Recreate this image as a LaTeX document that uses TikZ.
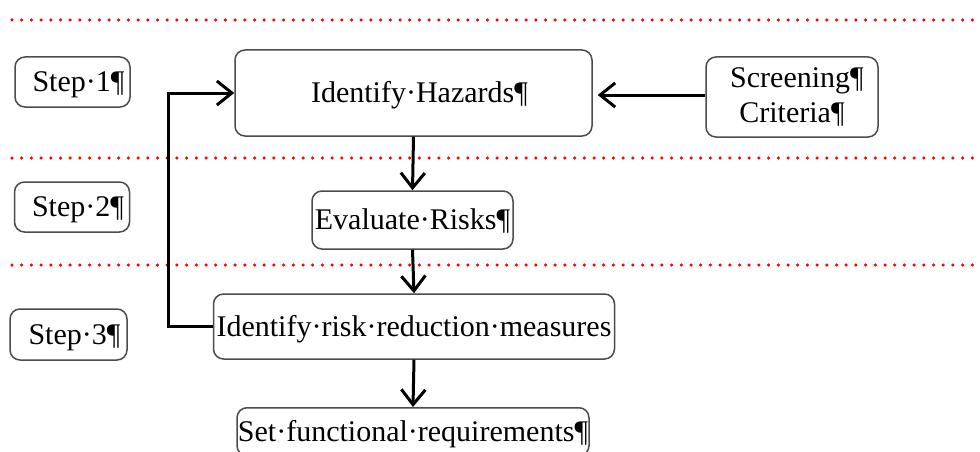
\documentclass[tikz,border=0pt]{standalone}
\usepackage{fontspec}
\setmainfont{Liberation Serif}
\usetikzlibrary{arrows.meta}
\tikzset{
  boxbase/.style={draw=black!70, line width=1.5pt, rounded corners=10pt, fill=white,
    inner sep=0pt, font=\fontsize{30}{35}\selectfont},
  box/.style={boxbase, text height=24pt, text depth=4.2pt},
  conn/.style={line width=3pt, -{Straight Barb[length=15pt,width=24pt,line width=3pt]}},
  divider/.style={red, line width=3.5pt, line cap=round, dash pattern=on 0pt off 9.7pt}
}
\begin{document}
\begin{tikzpicture}[x=1pt,y=-1pt]
\useasboundingbox (0,0) rectangle (980,452);
\clip (0,0) rectangle (980,452);
% dividers
\coordinate (d1a) at (12,20);  \coordinate (d1b) at (980,20);
\coordinate (d2a) at (12,158); \coordinate (d2b) at (980,158);
\coordinate (d3a) at (12,265); \coordinate (d3b) at (980,265);
\draw[divider] (d1a) -- (d1b);
\draw[divider] (d2a) -- (d2b);
\draw[divider] (d3a) -- (d3b);
% step labels
\node[box, minimum width=115pt, minimum height=50pt] (s1) at (72.5,82) {\hspace*{12pt}Step·1¶};
\node[box, minimum width=115pt, minimum height=50pt] (s2) at (72,207) {\hspace*{12pt}Step·2¶};
\node[box, minimum width=117pt, minimum height=51pt] (s3) at (68.5,334.5) {\hspace*{12pt}Step·3¶};
% main boxes
\node[box, minimum width=357pt, minimum height=86pt] (haz) at (413.5,93) {\hspace*{12pt}Identify·Hazards¶};
\node[boxbase, minimum width=172pt, minimum height=80pt, align=center] (scr) at (792,97)
  {\hspace*{10pt}Screening¶\\ Criteria¶};
\node[box, minimum width=201pt, minimum height=58pt] (eval) at (412.5,220) {Evaluate·Risks¶};
\node[box, minimum width=401pt, minimum height=65pt] (risk) at (414,326.5) {Identify·risk·reduction·measures};
\node[box, minimum width=352pt, minimum height=48pt, anchor=north] (set) at (413,407) {Set·functional·requirements¶};
% connectors
\draw[conn] (haz.south) -- (eval.north);
\draw[conn] (eval.south) -- (risk.north);
\draw[conn] (risk.south) -- (set.north);
\draw[conn] (scr.west |- 0,95) -- ([xshift=5pt]haz.east |- 0,95);
\coordinate (fb) at (168,326.5);
\draw[conn] (risk.west) -- (fb) |- (haz.west);
\end{tikzpicture}
\end{document}
